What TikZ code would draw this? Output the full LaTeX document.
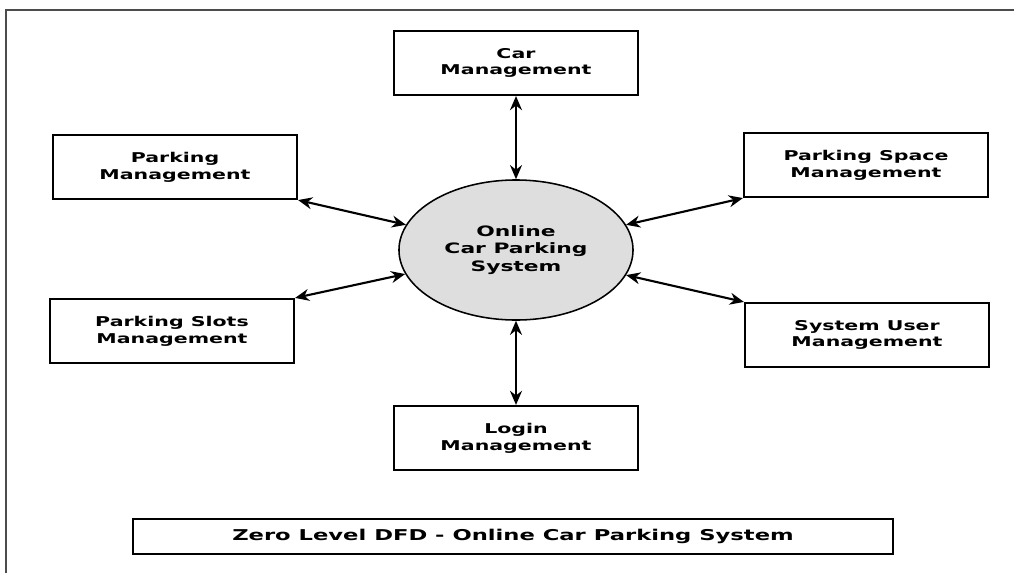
\documentclass[tikz,border=0pt]{standalone}
\usepackage{fontspec}
\newfontfamily\dfdfont[FakeStretch=1.52]{DejaVu Sans}
\usetikzlibrary{shapes.geometric,arrows.meta}
\begin{document}
\begin{tikzpicture}[x=0.025cm,y=-0.025cm,
    ent/.style={draw,line width=1.5pt,minimum width=6.1cm,minimum height=1.6cm,align=center,inner sep=0pt,
        font=\dfdfont\bfseries\fontsize{9.6}{12}\selectfont},
    proc/.style={draw,line width=1.1pt,ellipse,fill=black!13,minimum width=5.85cm,minimum height=3.5cm,align=center,inner sep=0pt,
        font=\dfdfont\bfseries\fontsize{10.2}{12.2}\selectfont},
    flow/.style={{Stealth[length=10pt,width=8.5pt]}-{Stealth[length=10pt,width=8.5pt]},line width=1.5pt}]
            \useasboundingbox (0,0) rectangle (1014,573);
            %frame
            \draw[black!70,line width=0.8pt] (6,573) -- (6,10) -- (1014,10);

            \node [proc](S) at (516,250) {Online\\Car Parking\\System};
            \node [ent](Car) at (516,63) {Car\\Management};
            \node [ent](Pm) at (175,167) {Parking\\Management};
            \node [ent](Psp) at (866,165) {Parking Space\\Management};
            \node [ent](Psl) at (172,331) {Parking Slots\\Management};
            \node [ent](Su) at (867,335) {System User\\Management};
            \node [ent](Lg) at (516,438) {Login\\Management};

            \draw[flow] (Car) -- (S);
            \draw[flow] (Lg) -- (S);
            \draw[flow] (Pm.south east) -- (S);
            \draw[flow] (Psp.south west) -- (S);
            \draw[flow] (Psl.north east) -- (S);
            \draw[flow] (Su.north west) -- (S);

            \node [draw,line width=1.5pt,minimum width=19cm,minimum height=0.875cm,inner sep=0pt,
                font=\dfdfont\bfseries\fontsize{10.6}{12.5}\selectfont](T) at (513,536.5) {Zero Level DFD - Online Car Parking System};
\end{tikzpicture}
\end{document}
